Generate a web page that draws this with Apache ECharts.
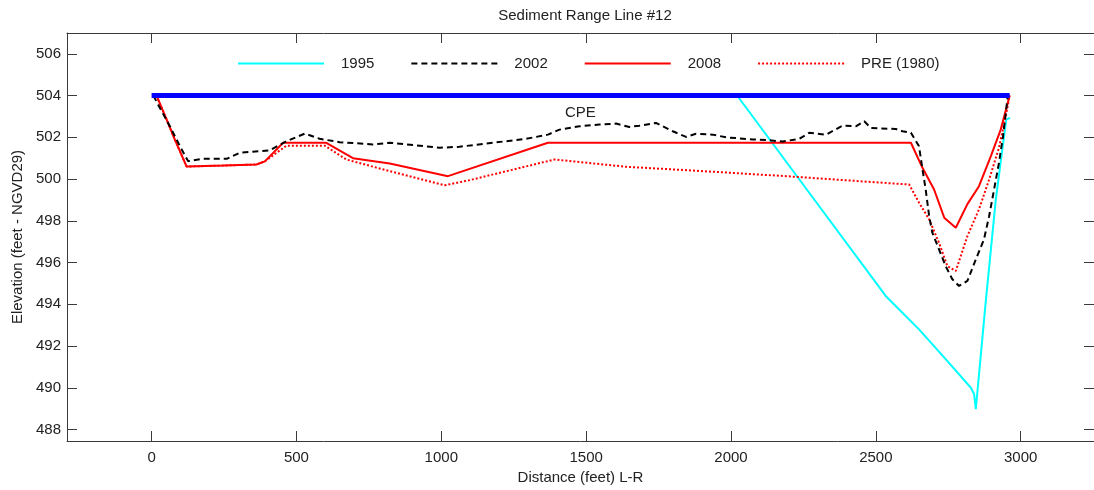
<!DOCTYPE html>
<html>
<head>
<meta charset="utf-8">
<title>Sediment Range Line #12</title>
<script src="https://cdn.jsdelivr.net/npm/echarts@6/dist/echarts.min.js"></script>
<style>
  html, body { margin: 0; padding: 0; background: #fff; }
  #chart { width: 1094px; height: 490px; }
</style>
</head>
<body>
<div id="chart"></div>
<script>
// Survey profiles across range line #12: [distance (ft), elevation (ft NGVD29)]
const profile1995 = [
  [2023, 503.97], [2236, 499.98], [2534, 494.4], [2649, 492.8], [2741, 491.37],
  [2828, 490.0], [2839, 489.7], [2845, 488.98], [2879, 494.08], [2914, 499.02],
  [2950, 502.85], [2963, 502.93]
];
const profile2002 = [
  [6, 504.0], [63, 502.53], [98, 501.57], [126, 500.86], [178, 500.97], [259, 500.97],
  [304, 501.26], [408, 501.38], [465, 501.81], [529, 502.18], [580, 501.93], [649, 501.77],
  [764, 501.66], [822, 501.74], [994, 501.5], [1063, 501.55], [1178, 501.74], [1293, 501.93],
  [1368, 502.13], [1408, 502.37], [1477, 502.53], [1546, 502.61], [1603, 502.66], [1649, 502.5],
  [1684, 502.56], [1741, 502.69], [1799, 502.29], [1845, 502.02], [1879, 502.17], [1937, 502.13],
  [1983, 502.0], [2075, 501.9], [2132, 501.86], [2178, 501.8], [2236, 501.93], [2270, 502.22],
  [2328, 502.13], [2385, 502.56], [2431, 502.53], [2460, 502.77], [2483, 502.45], [2569, 502.4],
  [2592, 502.29], [2621, 502.22], [2649, 501.57], [2661, 500.46], [2672, 499.5], [2684, 498.22],
  [2695, 497.43], [2718, 496.63], [2741, 495.83], [2764, 495.2], [2787, 494.88], [2816, 495.12],
  [2845, 496.15], [2873, 497.1], [2891, 498.22], [2908, 499.5], [2925, 500.78], [2939, 502.05],
  [2950, 503.33], [2955, 504.0]
];
const profile2008 = [
  [17, 504.0], [52, 502.85], [80, 501.9], [121, 500.6], [247, 500.65], [362, 500.7],
  [391, 500.85], [454, 501.74], [603, 501.74], [695, 501.0], [822, 500.75], [1023, 500.14],
  [1368, 501.74], [2621, 501.74], [2661, 500.54], [2701, 499.5], [2736, 498.15], [2776, 497.67],
  [2816, 498.8], [2856, 499.66], [2897, 501.1], [2931, 502.37], [2962, 504.0]
];
const profilePre1980 = [
  [17, 504.0], [52, 502.85], [80, 501.9], [121, 500.6], [247, 500.65], [362, 500.7],
  [391, 500.85], [465, 501.6], [598, 501.6], [672, 500.94], [822, 500.38], [1011, 499.7],
  [1098, 499.95], [1391, 500.94], [1638, 500.59], [1868, 500.41], [2190, 500.14], [2442, 499.9],
  [2615, 499.74], [2649, 498.87], [2684, 498.07], [2718, 496.95], [2747, 495.83], [2776, 495.6],
  [2816, 497.27], [2856, 498.55], [2891, 499.98], [2925, 501.5], [2948, 503.0], [2962, 504.0]
];
// Conservation pool elevation across the section
const poolLine = [[0, 504.0], [2962, 504.0]];
const poolLabel = 'CPE';
const poolLabelAt = [[1480, 503.15]];

const seriesNames = ['1995', '2002', '2008', 'PRE (1980)'];
const xTicks = [0, 500, 1000, 1500, 2000, 2500, 3000];
const yTicks = [488, 490, 492, 494, 496, 498, 500, 502, 504, 506];

const FONT = '"Liberation Sans", Arial, sans-serif';
const INK = '#222';
const FRAME = '#3a3a3a';
const X_RANGE = { min: -292, max: 3253 };
const Y_RANGE = { min: 487.45, max: 507.0 };
const plain = (v) => String(v);

function frameAxis(extra) {
  return Object.assign({
    type: 'value',
    splitLine: { show: false },
    axisLine: { show: true, onZero: false, lineStyle: { color: FRAME, width: 1 } }
  }, extra);
}

const chart = echarts.init(document.getElementById('chart'), null, { renderer: 'canvas' });

chart.setOption({
  animation: false,
  backgroundColor: '#fff',
  title: {
    text: 'Sediment Range Line #12',
    left: 580, top: 3, textAlign: 'center',
    textStyle: { fontFamily: FONT, fontSize: 15, fontWeight: 'normal', color: INK }
  },
  grid: { left: 67, right: -1, top: 33, bottom: 48, containLabel: false },
  legend: {
    data: seriesNames,
    left: 232, top: 51,
    itemWidth: 86, itemHeight: 14, itemGap: 36,
    itemStyle: { opacity: 0, borderWidth: 0 },
    textStyle: { fontFamily: FONT, fontSize: 15, color: INK, padding: [0, 0, 0, 12] }
  },
  xAxis: [
    frameAxis(Object.assign({
      position: 'bottom',
      name: 'Distance (feet) L-R', nameLocation: 'middle', nameGap: 29,
      nameTextStyle: { fontFamily: FONT, fontSize: 15, color: INK },
      axisTick: { show: true, inside: true, length: 10, customValues: xTicks, lineStyle: { color: FRAME } },
      axisLabel: { customValues: xTicks, formatter: plain, margin: 9, fontFamily: FONT, fontSize: 15, color: INK }
    }, X_RANGE)),
    frameAxis(Object.assign({
      position: 'top',
      axisTick: { show: true, inside: true, length: 10, customValues: xTicks, lineStyle: { color: FRAME } },
      axisLabel: { show: false }
    }, X_RANGE))
  ],
  yAxis: [
    frameAxis(Object.assign({
      position: 'left',
      name: 'Elevation (feet - NGVD29)', nameLocation: 'middle', nameGap: 40, nameRotate: 90,
      nameTextStyle: { fontFamily: FONT, fontSize: 15, color: INK },
      axisTick: { show: true, inside: true, length: 10, customValues: yTicks, lineStyle: { color: FRAME } },
      axisLabel: { customValues: yTicks, formatter: plain, margin: 6, fontFamily: FONT, fontSize: 15, color: INK }
    }, Y_RANGE)),
    frameAxis(Object.assign({
      position: 'right',
      axisTick: { show: true, inside: true, length: 10, customValues: yTicks, lineStyle: { color: FRAME } },
      axisLabel: { show: false }
    }, Y_RANGE))
  ],
  series: [
    {
      name: '1995', type: 'line', data: profile1995, symbol: 'none',
      lineStyle: { color: '#00ffff', width: 2 }, itemStyle: { color: '#00ffff' }
    },
    {
      name: 'PRE (1980)', type: 'line', data: profilePre1980, symbol: 'none',
      lineStyle: { color: '#ff0000', width: 2, type: [2, 2] }, itemStyle: { color: '#ff0000' }
    },
    {
      name: '2008', type: 'line', data: profile2008, symbol: 'none',
      lineStyle: { color: '#ff0000', width: 2 }, itemStyle: { color: '#ff0000' }
    },
    {
      name: '2002', type: 'line', data: profile2002, symbol: 'none',
      lineStyle: { color: '#000000', width: 2, type: [6, 4] }, itemStyle: { color: '#000000' }
    },
    {
      name: 'CPE', type: 'line', data: poolLine, symbol: 'none',
      lineStyle: { color: '#0000ff', width: 5 }, itemStyle: { color: '#0000ff' }
    },
    {
      name: 'CPE label', type: 'scatter', data: poolLabelAt, symbolSize: 1,
      itemStyle: { color: 'rgba(0,0,0,0)', opacity: 1 }, silent: true,
      label: {
        show: true, position: 'inside', formatter: poolLabel,
        fontFamily: FONT, fontSize: 15, color: INK,
        textBorderWidth: 0, textBorderColor: 'transparent'
      }
    }
  ]
});
</script>
</body>
</html>
